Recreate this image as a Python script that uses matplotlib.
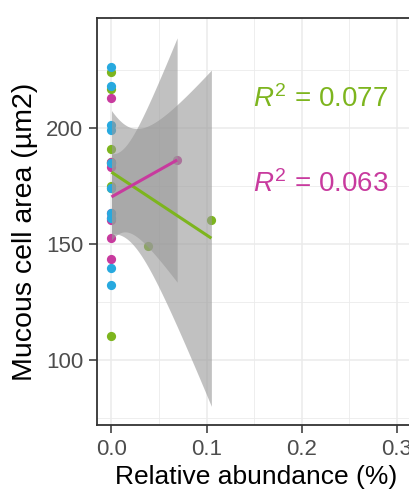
import numpy as np
import matplotlib
matplotlib.use("Agg")
import matplotlib.pyplot as plt
from matplotlib.ticker import MultipleLocator

plt.rcParams['font.family'] = ['Liberation Sans', 'DejaVu Sans']
plt.rcParams['mathtext.fontset'] = 'custom'
plt.rcParams['mathtext.rm'] = 'Liberation Sans'
plt.rcParams['mathtext.it'] = 'Liberation Sans:italic'

# --- data ---
green_x = [0, 0, 0, 0, 0, 0, 0, 0, 0.038, 0.105]
green_y = [224.1, 216.8, 191.0, 185.3, 184.9, 175.0, 174.1, 110.3, 149.1, 160.3]

magenta_x = [0, 0, 0, 0, 0, 0, 0, 0, 0.069]
magenta_y = [212.9, 185.3, 183.2, 163.4, 161.2, 160.3, 152.6, 143.5, 186.2]

blue_x = [0, 0, 0, 0, 0, 0, 0, 0, 0, 0]
blue_y = [226.3, 218.1, 201.3, 199.1, 184.9, 174.1, 163.4, 161.2, 139.7, 132.3]

r2_labels = ['0.077', '0.063']

GREEN = '#7DB51E'
MAGENTA = '#C83A9E'
BLUE = '#27A9DF'

# two-sided 95% t quantiles by residual df
T95 = {5: 2.571, 6: 2.447, 7: 2.365, 8: 2.306, 9: 2.262}


def lm_band(x, y, n=80):
    x = np.asarray(x, float)
    y = np.asarray(y, float)
    b, a = np.polyfit(x, y, 1)
    resid = y - (a + b * x)
    df = len(x) - 2
    s = np.sqrt((resid ** 2).sum() / df)
    sxx = ((x - x.mean()) ** 2).sum()
    xs = np.linspace(x.min(), x.max(), n)
    fit = a + b * xs
    se = s * np.sqrt(1 / len(x) + (xs - x.mean()) ** 2 / sxx)
    return xs, fit, fit - T95[df] * se, fit + T95[df] * se


fig = plt.figure(figsize=(4.09, 4.93), dpi=100)
ax = fig.add_axes([0.2372, 0.1379, 0.778, 0.8256])

ax.scatter(green_x, green_y, s=44, color=GREEN, zorder=2, linewidths=0)
ax.scatter(magenta_x, magenta_y, s=44, color=MAGENTA, zorder=2, linewidths=0)
ax.scatter(blue_x, blue_y, s=44, color=BLUE, zorder=2, linewidths=0)

for gx, gy, col in [(green_x, green_y, GREEN), (magenta_x, magenta_y, MAGENTA)]:
    xs, fit, lo, hi = lm_band(gx, gy)
    ax.fill_between(xs, lo, hi, color='#999999', alpha=0.6, linewidth=0, zorder=3)
    ax.plot(xs, fit, color=col, lw=2.2, zorder=4, solid_capstyle='butt')

ax.text(0.1487, 212.5, r'$R^2$ = ' + r2_labels[0], color=GREEN, fontsize=20,
        va='center', ha='left', zorder=5)
ax.text(0.1487, 175.9, r'$R^2$ = ' + r2_labels[1], color=MAGENTA, fontsize=20,
        va='center', ha='left', zorder=5)

ax.set_xlim(-0.0152, 0.3192)
ax.set_ylim(72.0, 247.4)
ax.xaxis.set_minor_locator(MultipleLocator(0.05))
ax.yaxis.set_minor_locator(MultipleLocator(25))
ax.set_yticks([100, 150, 200])
ax.set_xticks([0.0, 0.1, 0.2, 0.3])
ax.set_xticklabels(['0.0', '0.1', '0.2', '0.3'])

ax.grid(which='major', color='#EBEBEB', lw=1.1, zorder=0)
ax.grid(which='minor', color='#EBEBEB', lw=0.6, zorder=0)
ax.set_axisbelow(True)

for side in ['left', 'top', 'bottom', 'right']:
    ax.spines[side].set_color('#333333')
    ax.spines[side].set_linewidth(1.3)

ax.tick_params(which='major', length=6, width=1.1, color='#333333',
               labelsize=16, labelcolor='#4D4D4D', pad=4)
ax.tick_params(which='minor', length=0)

ax.set_xlabel('Relative abundance (%)', fontsize=19, labelpad=4)
ax.set_ylabel('Mucous cell area (\u00b5m2)', fontsize=20.5)
ax.yaxis.set_label_coords(-0.185, 0.475)

fig.savefig('out.png', dpi=100)
